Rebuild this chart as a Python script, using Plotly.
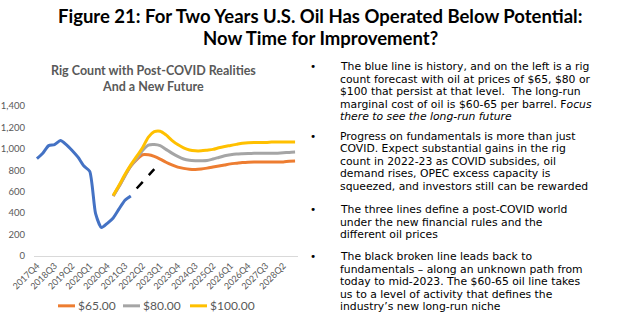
import plotly.graph_objects as go

W, H = 643, 322
ML, MR, MT, MB = 34, 345, 105.5, 66
PW = W - ML - MR
PH = H - MT - MB

def px(x):
    return (x - ML) / PW

def py(y):
    return 1 - (y - MT) / PH

# ---------------- data ----------------
quarters = []
for yr in range(2017, 2029):
    for q in range(1, 5):
        quarters.append(f"{yr}Q{q}")
quarters = quarters[3:]  # 2017Q4 .. 2028Q4 (45 quarters)

tick_labels = quarters[::3]

history = [909, 960, 1030, 1040, 1078, 1040, 985, 922, 840, 790,
           395, 265, 305, 355, 440, 520, 560]

p65 = [560, 650, 750, 840, 900, 945, 945, 930, 905, 875, 850, 830, 818, 810,
       808, 812, 820, 830, 840, 850, 860, 866, 872, 876, 878, 878, 878, 878,
       878, 878, 884, 886]
p80 = [560, 650, 750, 840, 910, 985, 1035, 1040, 1030, 995, 960, 930, 905, 893,
       890, 890, 892, 905, 920, 935, 945, 952, 955, 957, 958, 958, 958, 958,
       960, 963, 967, 970]
p100 = [565, 660, 760, 850, 930, 1010, 1110, 1160, 1165, 1130, 1080, 1040, 1010,
        990, 982, 982, 988, 995, 1010, 1022, 1032, 1042, 1052, 1058, 1060, 1060,
        1060, 1063, 1065, 1065, 1065, 1065]
forecast_start = 13

bridge = [630, 690, 750, 810]
bridge_start = 17

series_names = ["$65.00", "$80.00", "$100.00"]
series_colors = ["#ED7D31", "#A5A5A5", "#FFC000"]

main_title = ["Figure 21: For Two Years U.S. Oil Has Operated Below Potential:",
              "Now Time for Improvement?"]
chart_title = ["Rig Count with Post-COVID Realities", "And a New Future"]

bullets = [
    ["The blue line is history, and on the left is a rig",
     "count forecast with oil at prices of $65, $80 or",
     "$100 that persist at that level.  The long-run",
     "marginal cost of oil is $60-65 per barrel. F<i>ocus</i>",
     "<i>there to see the long-run future</i>"],
    ["Progress on fundamentals is more than just",
     "COVID. Expect substantial gains in the rig",
     "count in 2022-23 as COVID subsides, oil",
     "demand rises, OPEC excess capacity is",
     "squeezed, and investors still can be rewarded"],
    ["The three lines define a post-COVID world",
     "under the new financial rules and the",
     "different oil prices"],
    ["The black broken line leads back to",
     "fundamentals \u2013 along an unknown path from",
     "today to mid-2023. The $60-65 oil line takes",
     "us to a level of activity that defines the",
     "industry\u2019s new long-run niche"],
]

# ---------------- figure ----------------
fig = go.Figure()

fig.add_trace(go.Scatter(
    x=quarters[:len(history)], y=history, mode="lines",
    line=dict(color="#4472C4", width=3, shape="spline", smoothing=0.6),
    showlegend=False))

for name, col, vals in zip(series_names, series_colors, [p65, p80, p100]):
    fig.add_trace(go.Scatter(
        x=quarters[forecast_start:forecast_start + len(vals)], y=vals,
        mode="lines", name=name, showlegend=False,
        line=dict(color=col, width=3, shape="spline", smoothing=0.8)))

fig.add_trace(go.Scatter(
    x=quarters[bridge_start:bridge_start + len(bridge)], y=bridge, mode="lines",
    line=dict(color="black", width=2.5, dash="dash"), showlegend=False))

FONT = "Lato"
BODY = "DejaVu Sans"
anns = []
shapes = []
for i, t in enumerate(main_title):
    anns.append(dict(text=f"<b>{t}</b>", x=px(320), y=py([15, 37.5][i]),
                     xanchor="center", yanchor="middle",
                     font=dict(family=FONT, size=18.5, color="black")))
for i, t in enumerate(chart_title):
    anns.append(dict(text=f"<b>{t}</b>", x=px(153), y=py([69.5, 86][i]),
                     xanchor="center", yanchor="middle",
                     font=dict(family=FONT, size=12.5, color="#595959")))

# legend (drawn manually to match the compact Excel legend)
leg_x = [58, 123, 190]
leg_y = 306
for lx, name, col in zip(leg_x, series_names, series_colors):
    shapes.append(dict(type="line", xref="paper", yref="paper",
                       x0=px(lx), x1=px(lx + 17), y0=py(leg_y), y1=py(leg_y),
                       line=dict(color=col, width=3)))
    anns.append(dict(text=name, x=px(lx + 19), y=py(leg_y), xanchor="left",
                     yanchor="middle",
                     font=dict(family=FONT, size=12, color="#595959")))

starts = [66, 135.8, 209.3, 256.7]
LS = 12.6
for b, lines in enumerate(bullets):
    y0 = starts[b]
    anns.append(dict(text="\u2022", x=px(309), y=py(y0 - 0.5), xanchor="left",
                     yanchor="middle",
                     font=dict(family=BODY, size=10.5, color="black")))
    for j, t in enumerate(lines):
        anns.append(dict(text=t, x=px(339), y=py(y0 + j * LS), xanchor="left",
                         yanchor="middle",
                         font=dict(family=BODY, size=10.8, color="black")))

for a in anns:
    a.update(xref="paper", yref="paper", showarrow=False, borderpad=0)

fig.update_layout(
    width=W, height=H,
    margin=dict(l=ML, r=MR, t=MT, b=MB, pad=0, autoexpand=False),
    paper_bgcolor="white", plot_bgcolor="white",
    annotations=anns, shapes=shapes, showlegend=False,
    xaxis=dict(type="category", categoryorder="array", categoryarray=quarters,
               range=[-0.5, len(quarters) - 0.5], tickvals=tick_labels,
               ticktext=tick_labels, tickangle=-45, showgrid=False,
               showline=True, linecolor="#D9D9D9", linewidth=1, ticks="",
               automargin=False,
               tickfont=dict(family=FONT, size=9, color="#595959"), zeroline=False),
    yaxis=dict(range=[0, 1400], dtick=200, tickformat=",", showgrid=False,
               zeroline=False, showline=False, ticks="", automargin=False,
               ticklabelstandoff=8,
               tickfont=dict(family=FONT, size=9.5, color="#595959")),
)

fig.write_html("out.html")
